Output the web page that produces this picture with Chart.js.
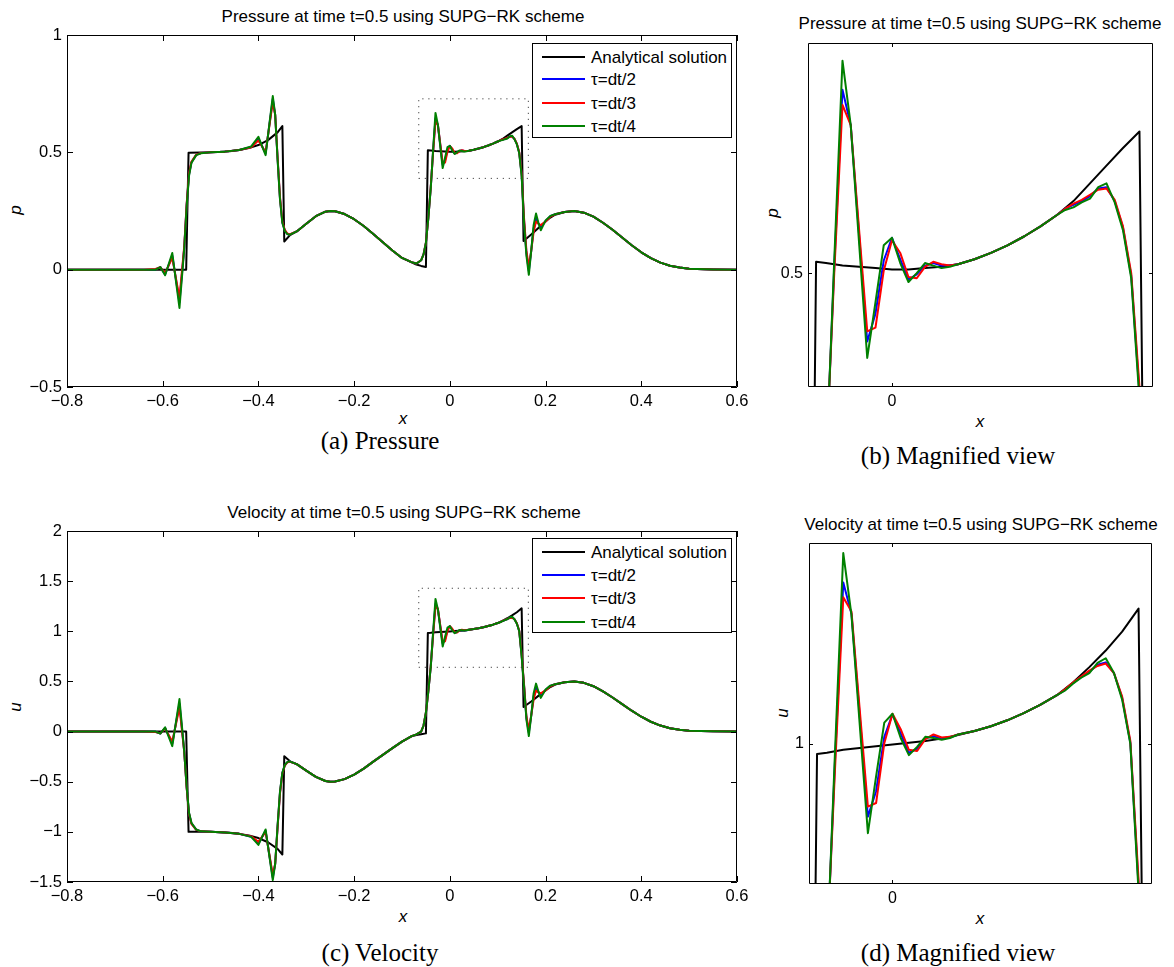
<!DOCTYPE html>
<html>
<head>
<meta charset="utf-8">
<title>SUPG-RK pressure and velocity at t=0.5</title>
<script src="https://cdn.jsdelivr.net/npm/chart.js@4.4.1/dist/chart.umd.min.js"></script>
<style>
  html, body { margin: 0; padding: 0; background: #fff; }
  #page { position: relative; width: 1174px; height: 967px; overflow: hidden;
          font-family: 'Liberation Sans', Arial, sans-serif; color: #000; }
  #page canvas { position: absolute; }
  .txt { position: absolute; white-space: nowrap; line-height: 1; transform: translate(-50%, -50%); }
  .title { font-size: 17px; }
  .axlab { font-size: 17px; font-style: italic; }
  .rot { transform: translate(-50%, -50%) rotate(-90deg); }
  .caption { font-family: 'Liberation Serif', 'Times New Roman', serif; font-size: 25px; }
  .legend { position: absolute; box-sizing: border-box; border: 1px solid #000; background: #fff; font-size: 17px; }
  .legend .swatch { position: absolute; left: 9px; width: 43px; height: 2px; }
  .legend .name { position: absolute; left: 58px; white-space: nowrap; line-height: 1; transform: translateY(-50%); }
</style>
</head>
<body>
<div id="page">
  <div class="txt title" style="left:403px; top:16px">Pressure at time t=0.5 using SUPG−RK scheme</div>
  <div class="txt title" style="left:980px; top:23px">Pressure at time t=0.5 using SUPG−RK scheme</div>
  <div class="txt title" style="left:404px; top:512px">Velocity at time t=0.5 using SUPG−RK scheme</div>
  <div class="txt title" style="left:981px; top:524px">Velocity at time t=0.5 using SUPG−RK scheme</div>

  <div class="txt axlab rot" style="left:15px; top:210px">p</div>
  <div class="txt axlab rot" style="left:772px; top:213px">p</div>
  <div class="txt axlab rot" style="left:15px; top:707px">u</div>
  <div class="txt axlab rot" style="left:782px; top:713px">u</div>
  <div class="txt axlab" style="left:403px; top:418px">x</div>
  <div class="txt axlab" style="left:980px; top:421px">x</div>
  <div class="txt axlab" style="left:403px; top:916px">x</div>
  <div class="txt axlab" style="left:980px; top:918px">x</div>

  <div class="txt caption" style="left:380px; top:440px">(a) Pressure</div>
  <div class="txt caption" style="left:958px; top:455px">(b) Magnified view</div>
  <div class="txt caption" style="left:380px; top:952px">(c) Velocity</div>
  <div class="txt caption" style="left:958px; top:952px">(d) Magnified view</div>
</div>

<script>
// Numerical grid, refined around the shocks
const xNum = [
  -0.8, -0.7, -0.64, -0.615, -0.605, -0.595, -0.58, -0.565, -0.555, -0.55,
  -0.545, -0.54, -0.53, -0.52, -0.5, -0.47, -0.44, -0.415, -0.40, -0.385,
  -0.37, -0.365, -0.36, -0.355, -0.35, -0.345, -0.34, -0.335, -0.32, -0.30,
  -0.28, -0.26, -0.25, -0.24, -0.22, -0.20, -0.18, -0.16, -0.14, -0.12,
  -0.10, -0.08, -0.07, -0.06, -0.055, -0.05, -0.045, -0.04, -0.035, -0.03,
  -0.025, -0.015, -0.01, -0.005, 0, 0.005, 0.01, 0.015, 0.02, 0.025,
  0.03, 0.035, 0.04, 0.05, 0.06, 0.07, 0.08, 0.09, 0.10, 0.105,
  0.11, 0.115, 0.12, 0.125, 0.13, 0.135, 0.14, 0.145, 0.15, 0.155,
  0.16, 0.165, 0.17, 0.175, 0.18, 0.185, 0.19, 0.2, 0.21, 0.22,
  0.24, 0.26, 0.28, 0.30, 0.32, 0.34, 0.36, 0.38, 0.40, 0.42,
  0.44, 0.46, 0.48, 0.50, 0.55, 0.6
];

// pressure, tau = dt/2
const pTau2 = [
  0, 0, 0, 0.001, 0.011, -0.02, 0.06, -0.14, 0.095, 0.275,
  0.405, 0.458, 0.489, 0.497, 0.5, 0.503, 0.51, 0.523, 0.558, 0.495,
  0.728, 0.66, 0.475, 0.305, 0.2, 0.168, 0.153, 0.149, 0.163, 0.196,
  0.228, 0.247, 0.25, 0.249, 0.237, 0.215, 0.186, 0.152, 0.117, 0.082,
  0.05, 0.032, 0.026, 0.04, 0.065, 0.115, 0.22, 0.348, 0.505, 0.645,
  0.617, 0.446, 0.468, 0.510, 0.528, 0.511, 0.495, 0.499, 0.506, 0.508,
  0.506, 0.506, 0.507, 0.511, 0.516, 0.522, 0.529, 0.537, 0.546, 0.551,
  0.554, 0.557, 0.561, 0.567, 0.568, 0.557, 0.536, 0.498, 0.405, 0.21,
  0.07, -0.005, 0.08, 0.175, 0.222, 0.198, 0.18, 0.207, 0.228, 0.236,
  0.246, 0.25, 0.243, 0.226, 0.2, 0.17, 0.137, 0.104, 0.074, 0.049,
  0.03, 0.017, 0.009, 0.004, 0.001, 0
];

// pressure, tau = dt/3
const pTau3 = [
  0, 0, 0, 0.003, 0.01, -0.015, 0.05, -0.12, 0.1, 0.28,
  0.41, 0.46, 0.49, 0.497, 0.5, 0.503, 0.51, 0.522, 0.55, 0.50,
  0.715, 0.66, 0.48, 0.31, 0.205, 0.17, 0.155, 0.15, 0.163, 0.196,
  0.228, 0.247, 0.25, 0.249, 0.237, 0.215, 0.186, 0.152, 0.117, 0.082,
  0.05, 0.032, 0.026, 0.04, 0.065, 0.115, 0.22, 0.35, 0.50, 0.633,
  0.617, 0.454, 0.457, 0.502, 0.526, 0.516, 0.497, 0.496, 0.505, 0.509,
  0.507, 0.506, 0.507, 0.511, 0.516, 0.522, 0.529, 0.537, 0.546, 0.551,
  0.555, 0.558, 0.562, 0.566, 0.567, 0.558, 0.537, 0.50, 0.41, 0.22,
  0.08, 0.012, 0.08, 0.16, 0.205, 0.195, 0.19, 0.205, 0.226, 0.236,
  0.246, 0.25, 0.243, 0.226, 0.2, 0.17, 0.137, 0.104, 0.074, 0.049,
  0.03, 0.017, 0.009, 0.004, 0.001, 0
];

// pressure, tau = dt/4
const pTau4 = [
  0, 0, 0, 0, 0.011, -0.024, 0.071, -0.163, 0.09, 0.27,
  0.40, 0.455, 0.488, 0.496, 0.5, 0.503, 0.51, 0.525, 0.566, 0.488,
  0.74, 0.66, 0.47, 0.30, 0.20, 0.165, 0.152, 0.148, 0.163, 0.196,
  0.228, 0.247, 0.25, 0.249, 0.237, 0.215, 0.186, 0.152, 0.117, 0.082,
  0.05, 0.032, 0.026, 0.04, 0.065, 0.115, 0.22, 0.345, 0.51, 0.668,
  0.617, 0.433, 0.477, 0.522, 0.528, 0.508, 0.493, 0.5, 0.508, 0.506,
  0.504, 0.505, 0.507, 0.511, 0.516, 0.522, 0.529, 0.537, 0.546, 0.55,
  0.552, 0.556, 0.559, 0.568, 0.571, 0.556, 0.534, 0.496, 0.40, 0.2,
  0.06, -0.022, 0.08, 0.19, 0.239, 0.2, 0.168, 0.21, 0.229, 0.236,
  0.246, 0.25, 0.243, 0.226, 0.2, 0.17, 0.137, 0.104, 0.074, 0.049,
  0.03, 0.017, 0.009, 0.004, 0.001, 0
];

// velocity, tau = dt/2
const uTau2 = [
  0, 0, 0, -0.002, -0.02, 0.037, -0.12, 0.28, -0.2, -0.555,
  -0.815, -0.915, -0.978, -0.995, -1.0, -1.006, -1.02, -1.048, -1.115, -0.99,
  -1.455, -1.32, -0.95, -0.61, -0.41, -0.337, -0.307, -0.298, -0.325, -0.39,
  -0.452, -0.493, -0.5, -0.497, -0.474, -0.43, -0.37, -0.30, -0.232, -0.165,
  -0.1, -0.045, -0.028, 0.0, 0.06, 0.19, 0.4, 0.645, 0.975, 1.273,
  1.22, 0.877, 0.92, 1.012, 1.05, 1.018, 0.985, 0.992, 1.01, 1.013,
  1.009, 1.011, 1.016, 1.022, 1.03, 1.04, 1.052, 1.066, 1.082, 1.091,
  1.103, 1.113, 1.122, 1.134, 1.138, 1.12, 1.078, 1.002, 0.76, 0.46,
  0.135, -0.01, 0.16, 0.35, 0.444, 0.395, 0.36, 0.414, 0.456, 0.472,
  0.492, 0.5, 0.486, 0.452, 0.4, 0.34, 0.274, 0.208, 0.148, 0.098,
  0.06, 0.034, 0.018, 0.008, 0.002, 0
];

// velocity, tau = dt/3
const uTau3 = [
  0, 0, 0, -0.005, -0.018, 0.03, -0.1, 0.24, -0.2, -0.56,
  -0.82, -0.92, -0.98, -0.995, -1.0, -1.006, -1.02, -1.045, -1.10, -1.0,
  -1.43, -1.32, -0.96, -0.62, -0.42, -0.34, -0.31, -0.3, -0.325, -0.39,
  -0.452, -0.493, -0.5, -0.497, -0.474, -0.43, -0.37, -0.30, -0.232, -0.165,
  -0.1, -0.045, -0.028, 0.0, 0.06, 0.19, 0.4, 0.65, 0.96, 1.248,
  1.224, 0.894, 0.90, 1.001, 1.051, 1.025, 0.99, 0.988, 1.008, 1.016,
  1.011, 1.012, 1.016, 1.022, 1.03, 1.04, 1.052, 1.066, 1.082, 1.092,
  1.104, 1.114, 1.124, 1.132, 1.136, 1.12, 1.08, 1.005, 0.77, 0.47,
  0.15, 0.02, 0.16, 0.32, 0.41, 0.39, 0.38, 0.41, 0.452, 0.472,
  0.492, 0.5, 0.486, 0.452, 0.4, 0.34, 0.274, 0.208, 0.148, 0.098,
  0.06, 0.034, 0.018, 0.008, 0.002, 0
];

// velocity, tau = dt/4
const uTau4 = [
  0, 0, 0, 0, -0.02, 0.042, -0.145, 0.324, -0.2, -0.55,
  -0.81, -0.91, -0.977, -0.995, -1.0, -1.006, -1.02, -1.05, -1.13, -0.976,
  -1.48, -1.32, -0.94, -0.6, -0.41, -0.335, -0.305, -0.297, -0.325, -0.39,
  -0.452, -0.493, -0.5, -0.497, -0.474, -0.43, -0.37, -0.30, -0.232, -0.165,
  -0.1, -0.045, -0.028, 0.0, 0.06, 0.19, 0.4, 0.64, 0.99, 1.323,
  1.218, 0.849, 0.945, 1.036, 1.051, 1.01, 0.981, 0.995, 1.012, 1.01,
  1.007, 1.01, 1.016, 1.022, 1.03, 1.04, 1.052, 1.066, 1.082, 1.09,
  1.102, 1.112, 1.12, 1.137, 1.145, 1.12, 1.075, 1.0, 0.75, 0.45,
  0.12, -0.045, 0.16, 0.38, 0.478, 0.4, 0.336, 0.42, 0.458, 0.472,
  0.492, 0.5, 0.486, 0.452, 0.4, 0.34, 0.274, 0.208, 0.148, 0.098,
  0.06, 0.034, 0.018, 0.008, 0.002, 0
];

// Analytical solution (breakpoints at the jumps)
const xExact = [
  -0.8, -0.551, -0.546, -0.52, -0.5, -0.48, -0.46, -0.44, -0.42, -0.40,
  -0.38, -0.36, -0.35, -0.346, -0.334, -0.32, -0.30, -0.28, -0.26, -0.25,
  -0.24, -0.22, -0.20, -0.18, -0.16, -0.14, -0.12, -0.10, -0.08, -0.07,
  -0.06, -0.05, -0.046, -0.04, -0.03, -0.02, -0.01, 0, 0.01, 0.02,
  0.03, 0.04, 0.05, 0.06, 0.07, 0.08, 0.09, 0.10, 0.11, 0.12,
  0.13, 0.14, 0.15, 0.154, 0.17, 0.185, 0.2, 0.21, 0.22, 0.24,
  0.26, 0.28, 0.30, 0.32, 0.34, 0.36, 0.38, 0.40, 0.42, 0.44,
  0.46, 0.48, 0.50, 0.55, 0.6
];
const pExact = [
  0, 0, 0.498, 0.499, 0.5, 0.502, 0.505, 0.51, 0.518, 0.531,
  0.552, 0.585, 0.612, 0.12, 0.147, 0.163, 0.196, 0.228, 0.247, 0.25,
  0.249, 0.237, 0.215, 0.186, 0.152, 0.117, 0.082, 0.05, 0.031, 0.022,
  0.016, 0.011, 0.509, 0.508, 0.506, 0.505, 0.504, 0.503, 0.503, 0.504,
  0.505, 0.507, 0.511, 0.516, 0.522, 0.529, 0.537, 0.546, 0.557, 0.571,
  0.585, 0.599, 0.612, 0.122, 0.15, 0.178, 0.205, 0.222, 0.234, 0.246,
  0.25, 0.243, 0.226, 0.2, 0.17, 0.137, 0.104, 0.074, 0.049, 0.03,
  0.017, 0.009, 0.004, 0.001, 0
];
const uExact = [
  0, 0, -1.0, -1.0, -1.0, -1.004, -1.01, -1.02, -1.036, -1.062,
  -1.104, -1.17, -1.226, -0.245, -0.297, -0.325, -0.39, -0.452, -0.493, -0.5,
  -0.497, -0.474, -0.43, -0.37, -0.30, -0.232, -0.165, -0.1, -0.048, -0.035,
  -0.026, -0.018, 0.983, 0.985, 0.99, 0.993, 0.996, 0.999, 1.002, 1.005,
  1.009, 1.015, 1.022, 1.03, 1.04, 1.052, 1.066, 1.082, 1.104, 1.13,
  1.158, 1.19, 1.229, 0.245, 0.3, 0.356, 0.41, 0.444, 0.468, 0.492,
  0.5, 0.486, 0.452, 0.4, 0.34, 0.274, 0.208, 0.148, 0.098, 0.06,
  0.034, 0.018, 0.008, 0.002, 0
];

// dotted frame marking the magnified region
const zoomBoxX = [-0.065, 0.164, 0.164, -0.065, -0.065];
const zoomBoxP = [0.389, 0.389, 0.728, 0.728, 0.389];
const zoomBoxU = [0.641, 0.641, 1.429, 1.429, 0.641];

// axis limits and ticks
const xFull = [-0.8, 0.6];
const pFull = [-0.5, 1];
const uFull = [-1.5, 2];
const xZoom = [-0.0509, 0.1582];
const pZoom = [0.41, 0.682];
const uZoom = [0.763, 1.34];
const xTicksFull = [-0.8, -0.6, -0.4, -0.2, 0, 0.2, 0.4, 0.6];
const pTicksFull = [-0.5, 0, 0.5, 1];
const uTicksFull = [-1.5, -1, -0.5, 0, 0.5, 1, 1.5, 2];
const xTicksZoom = [0];
const pTicksZoom = [0.5];
const uTicksZoom = [1];

const seriesNames = ['Analytical solution', 'τ=dt/2', 'τ=dt/3', 'τ=dt/4'];
const seriesColors = ['#000000', '#0000ff', '#ff0000', '#008000'];

[pTau2, pTau3, pTau4, uTau2, uTau3, uTau4].forEach(function(s) {
    if (s.length !== xNum.length) throw new Error('series length ' + s.length + ' != ' + xNum.length);
});
[pExact, uExact].forEach(function(s) {
    if (s.length !== xExact.length) throw new Error('exact length ' + s.length + ' != ' + xExact.length);
});

// box around the axes with inward tick marks on all four sides
const frameBox = {
    id: 'frameBox',
    afterDatasetsDraw(chart, args, opts) {
        const ctx = chart.ctx;
        const a = chart.chartArea;
        const len = opts.len || 6;
        const sx = chart.scales.x;
        const sy = chart.scales.y;
        ctx.save();
        ctx.strokeStyle = '#000';
        ctx.lineWidth = 1;
        ctx.beginPath();
        ctx.rect(Math.round(a.left) + 0.5, Math.round(a.top) + 0.5,
                 Math.round(a.right - a.left) - 1, Math.round(a.bottom - a.top) - 1);
        sx.ticks.forEach(function(t) {
            const px = Math.round(sx.getPixelForValue(t.value)) + 0.5;
            ctx.moveTo(px, a.bottom); ctx.lineTo(px, a.bottom - len);
            ctx.moveTo(px, a.top); ctx.lineTo(px, a.top + len);
        });
        sy.ticks.forEach(function(t) {
            const py = Math.round(sy.getPixelForValue(t.value)) + 0.5;
            ctx.moveTo(a.left, py); ctx.lineTo(a.left + len, py);
            ctx.moveTo(a.right, py); ctx.lineTo(a.right - len, py);
        });
        ctx.stroke();
        ctx.restore();
    }
};

function points(xs, ys) {
    return xs.map(function(x, i) { return { x: x, y: ys[i] }; });
}

function lineSet(xs, ys, color) {
    return {
        data: points(xs, ys),
        borderColor: color,
        borderWidth: 2,
        borderJoinStyle: 'round',
        pointRadius: 0,
        tension: 0,
        fill: false
    };
}

function tickLabel(v) {
    return String(v).replace('-', '\u2212');
}

function makePanel(cfg) {
    const canvas = document.createElement('canvas');
    canvas.width = cfg.w;
    canvas.height = cfg.h;
    canvas.style.left = cfg.left + 'px';
    canvas.style.top = cfg.top + 'px';
    document.getElementById('page').appendChild(canvas);

    const [aL, aT, aR, aB] = cfg.area;

    // first dataset is painted last, so the green run stays on top
    const datasets = [
        lineSet(xNum, cfg.num[2], seriesColors[3]),
        lineSet(xNum, cfg.num[1], seriesColors[2]),
        lineSet(xNum, cfg.num[0], seriesColors[1]),
        lineSet(xExact, cfg.exact, seriesColors[0])
    ];
    if (cfg.box) {
        datasets.push({
            data: points(zoomBoxX, cfg.box),
            borderColor: '#444',
            borderWidth: 1,
            borderDash: [1.2, 4.8],
            pointRadius: 0,
            tension: 0,
            fill: false
        });
    }

    const tickFont = { family: "'Liberation Sans', Arial, sans-serif", size: cfg.font };

    new Chart(canvas, {
        type: 'line',
        data: { datasets: datasets },
        plugins: [frameBox],
        options: {
            responsive: false,
            animation: false,
            events: [],
            layout: {
                padding: { left: 0, top: aT - cfg.top, right: cfg.left + cfg.w - aR, bottom: 0 }
            },
            plugins: {
                legend: { display: false },
                tooltip: { enabled: false },
                frameBox: { len: cfg.tickLen }
            },
            scales: {
                x: {
                    type: 'linear',
                    min: cfg.xr[0],
                    max: cfg.xr[1],
                    grid: { display: false, drawTicks: false },
                    border: { display: false },
                    afterBuildTicks: function(s) { s.ticks = cfg.xt.map(function(v) { return { value: v }; }); },
                    afterFit: function(s) { s.height = cfg.top + cfg.h - aB; },
                    ticks: { callback: tickLabel, font: tickFont, color: '#000', padding: 5, maxRotation: 0, autoSkip: false }
                },
                y: {
                    type: 'linear',
                    min: cfg.yr[0],
                    max: cfg.yr[1],
                    grid: { display: false, drawTicks: false },
                    border: { display: false },
                    afterBuildTicks: function(s) { s.ticks = cfg.yt.map(function(v) { return { value: v }; }); },
                    afterFit: function(s) { s.width = aL - cfg.left; },
                    ticks: { callback: tickLabel, font: tickFont, color: '#000', padding: 5, autoSkip: false }
                }
            }
        }
    });
}

function makeLegend(left, top, rows) {
    const box = document.createElement('div');
    box.className = 'legend';
    box.style.left = left + 'px';
    box.style.top = top + 'px';
    box.style.width = '200px';
    box.style.height = '95px';
    seriesNames.forEach(function(name, i) {
        const sw = document.createElement('div');
        sw.className = 'swatch';
        sw.style.top = (rows[i] - 1) + 'px';
        sw.style.background = seriesColors[i];
        const tx = document.createElement('div');
        tx.className = 'name';
        tx.style.top = rows[i] + 'px';
        tx.textContent = name;
        box.appendChild(sw);
        box.appendChild(tx);
    });
    document.getElementById('page').appendChild(box);
}

makePanel({ left: 0, top: 0, w: 760, h: 412, area: [67, 35, 737, 387],
            xr: xFull, yr: pFull, xt: xTicksFull, yt: pTicksFull,
            exact: pExact, num: [pTau2, pTau3, pTau4], box: zoomBoxP, font: 16.5, tickLen: 6 });
makePanel({ left: 760, top: 0, w: 414, h: 412, area: [808, 43, 1153, 387],
            xr: xZoom, yr: pZoom, xt: xTicksZoom, yt: pTicksZoom,
            exact: pExact, num: [pTau2, pTau3, pTau4], font: 16, tickLen: 4 });
makePanel({ left: 0, top: 480, w: 760, h: 425, area: [67, 531, 737, 882],
            xr: xFull, yr: uFull, xt: xTicksFull, yt: uTicksFull,
            exact: uExact, num: [uTau2, uTau3, uTau4], box: zoomBoxU, font: 16.5, tickLen: 6 });
makePanel({ left: 760, top: 480, w: 414, h: 425, area: [809, 543, 1152, 884],
            xr: xZoom, yr: uZoom, xt: xTicksZoom, yt: uTicksZoom,
            exact: uExact, num: [uTau2, uTau3, uTau4], font: 16, tickLen: 4 });

makeLegend(532, 43, [13, 35, 59, 82]);
makeLegend(532, 538, [13, 36, 59, 83]);
</script>
</body>
</html>
